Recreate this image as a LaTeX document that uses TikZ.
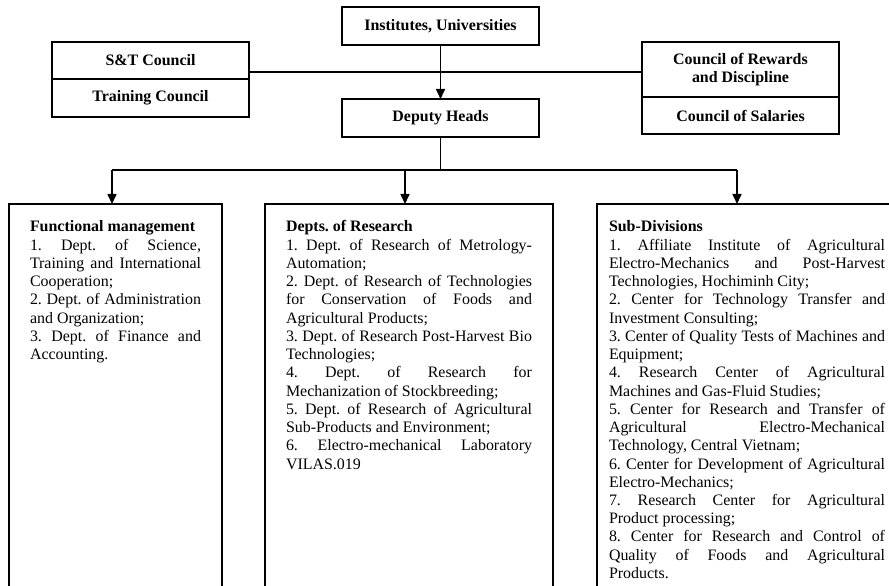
\documentclass[tikz,border=0pt]{standalone}
\usepackage{fontspec}
\setmainfont{Liberation Serif}
\usetikzlibrary{arrows.meta,calc}
\newcommand{\bodyfont}{\fontsize{16}{18.3}\selectfont}
\newcommand{\setjust}{\frenchspacing\tolerance=10000 \hbadness=10000 \hyphenpenalty=10000 \exhyphenpenalty=10000 \parindent=0pt }
\begin{document}
\begin{tikzpicture}[x=1bp,y=-1bp,
  box/.style={draw, line width=1.6bp, inner sep=0pt, outer sep=0pt, font=\bodyfont\bfseries, align=center},
  conn/.style={line width=1.6bp},
  arr/.style={conn, -{Triangle[length=10bp,width=9bp]}},
  body/.style={anchor=base west, inner sep=0pt, outer sep=0pt, font=\bodyfont}]
\useasboundingbox (0,0) rectangle (889,586);
\clip (0,0) rectangle (889,586);

% top boxes
\node[box, minimum width=197bp, minimum height=38bp] (inst) at (440.5,26) {Institutes, Universities};
\node[box, minimum width=197bp, minimum height=37bp] (st) at (150.5,60.5) {S\&T Council};
\node[box, minimum width=197bp, minimum height=38bp] (tr) at (150.5,98) {Training Council};
\node[box, minimum width=197bp, minimum height=55bp] (rw) at (740.5,69.5) {Council of Rewards\\and Discipline};
\node[box, minimum width=197bp, minimum height=37bp] (sal) at (740.5,115.5) {Council of Salaries};
\node[box, minimum width=197bp, minimum height=38bp] (dep) at (440.5,118) {Deputy Heads};

% lower boxes
\node[box, minimum width=213bp, minimum height=420bp, anchor=north west] (fm) at (9,204) {};
\node[box, minimum width=288bp, minimum height=420bp, anchor=north west] (dr) at (265,204) {};
\node[box, minimum width=303bp, minimum height=420bp, anchor=north west] (sd) at (597,204) {};

% connectors
\coordinate (hl) at (0,72);
\draw[conn] (st.east |- hl) -- (rw.west |- hl);
\draw[arr] (inst) -- (dep);
\coordinate (busL) at (112,170);
\coordinate (busM) at (405,170);
\coordinate (busR) at (737,170);
\draw[conn] (dep) -- (dep |- busL);
\draw[conn] (busL) -- (busR);
\draw[arr] (busL) -- (busL |- fm.north);
\draw[arr] (busM) -- (busM |- dr.north);
\draw[arr] (busR) -- (busR |- sd.north);

% texts
\node[body] (fmt) at ($(fm.north west)+(21,28)$) {\parbox[t]{171bp}{\setjust
{\bfseries Functional management}\par
1. Dept. of Science,\linebreak Training and International\linebreak Cooperation;\par
2. Dept. of Administration\linebreak and Organization;\par
3. Dept. of Finance and\linebreak Accounting.}};

\node[body] (drt) at ($(dr.north west)+(21,28)$) {\parbox[t]{246bp}{\setjust
{\bfseries Depts. of Research}\par
1. Dept. of Research of Metrology-\linebreak Automation;\par
2. Dept. of Research of Technologies\linebreak for Conservation of Foods and\linebreak Agricultural Products;\par
3. Dept. of Research Post-Harvest Bio\linebreak Technologies;\par
4. Dept. of Research for\linebreak Mechanization of Stockbreeding;\par
5. Dept. of Research of Agricultural\linebreak Sub-Products and Environment;\par
6. Electro-mechanical Laboratory\linebreak VILAS.019}};

\node[body] (sdt) at ($(sd.north west)+(12,28)$) {\parbox[t]{276bp}{\setjust
{\bfseries Sub-Divisions}\par
1. Affiliate Institute of Agricultural\linebreak Electro-Mechanics and Post-Harvest\linebreak Technologies, Hochiminh City;\par
2. Center for Technology Transfer and\linebreak Investment Consulting;\par
3. Center of Quality Tests of Machines and\linebreak Equipment;\par
4. Research Center of Agricultural\linebreak Machines and Gas-Fluid Studies;\par
5. Center for Research and Transfer of\linebreak Agricultural Electro-Mechanical\linebreak Technology, Central Vietnam;\par
6. Center for Development of Agricultural\linebreak Electro-Mechanics;\par
7. Research Center for Agricultural\linebreak Product processing;\par
8. Center for Research and Control of\linebreak Quality of Foods and Agricultural\linebreak Products.}};
\end{tikzpicture}
\end{document}
